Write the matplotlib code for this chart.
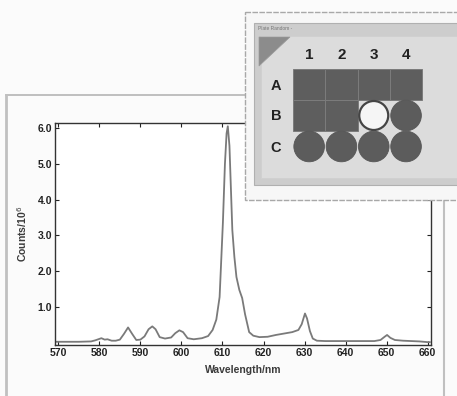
import matplotlib
matplotlib.use("Agg")
import matplotlib.pyplot as plt
from matplotlib.patches import Rectangle, Circle, Polygon

plt.rcParams['font.family'] = ['Liberation Sans', 'DejaVu Sans']

# ---- spectrum data ----
wavelength = [569, 572, 575, 578, 579, 580.5, 581.3, 582, 583, 584, 585, 586, 587, 588,
              589, 590, 591, 592, 592.9, 593.7, 594.7, 596, 597.5, 598.5, 599.5, 600.4,
              601.5, 603, 605, 606.5, 607.6, 608.5, 609.3, 610.1, 610.6, 611.0, 611.3,
              611.7, 612.4, 612.9, 613.4, 614.1, 614.8, 615.5, 616.5, 617.5, 619, 621,
              623, 625, 627, 628.5, 629.3, 630.1, 630.6, 631.3, 632, 633, 635, 638, 641,
              644, 647, 648.5, 649.5, 650.1, 650.9, 652, 654, 656, 658, 660, 660.5]
counts = [0.03, 0.03, 0.03, 0.04, 0.07, 0.13, 0.09, 0.10, 0.06, 0.06, 0.09, 0.25, 0.43,
          0.25, 0.08, 0.09, 0.18, 0.38, 0.46, 0.38, 0.16, 0.12, 0.15, 0.27, 0.35, 0.30,
          0.13, 0.10, 0.13, 0.19, 0.36, 0.65, 1.28, 3.35, 5.0, 5.85, 6.05, 5.5, 3.15,
          2.4, 1.84, 1.48, 1.25, 0.80, 0.30, 0.20, 0.16, 0.17, 0.22, 0.26, 0.30, 0.36,
          0.52, 0.82, 0.68, 0.33, 0.12, 0.06, 0.05, 0.05, 0.05, 0.05, 0.05, 0.08, 0.17,
          0.22, 0.14, 0.08, 0.06, 0.05, 0.04, 0.02, 0.02]

xticks = [570, 580, 590, 600, 610, 620, 630, 640, 650, 660]
yticks = [1.0, 2.0, 3.0, 4.0, 5.0, 6.0]

# ---- plate map data ----
plate_title = "Plate Random -"
col_labels = ["1", "2", "3", "4"]
row_labels = ["A", "B", "C"]
well_state = [["square", "square", "square", "square"],
              ["square", "square", "open", "filled"],
              ["filled", "filled", "filled", "filled"]]

W, H = 457, 396
fig = plt.figure(figsize=(W / 100, H / 100), dpi=100)
fig.patch.set_facecolor('#fbfbfb')

# background overlay (pixel coords) for frame lines
bg = fig.add_axes([0, 0, 1, 1], zorder=0)
bg.set_xlim(0, W); bg.set_ylim(H, 0); bg.axis('off')
bg.plot([6, 245], [95, 95], color='#b5b5b5', lw=1.2)
bg.plot([6, 6], [95, 396], color='#c0c0c0', lw=2.0)
bg.plot([444, 444], [200, 396], color='#c0c0c0', lw=1.5)

# main spectrum axes
l, r, t, b = 55, 431, 123, 345
ax = fig.add_axes([l / W, 1 - b / H, (r - l) / W, (b - t) / H], zorder=1)
ax.set_facecolor('white')
ax.plot(wavelength, counts, color='#7a7a7a', lw=1.3)
ax.set_xlim(569.2, 660.8)
ax.set_ylim(-0.06, 6.14)
ax.set_xticks(xticks)
ax.set_yticks(yticks)
ax.set_yticklabels([f"{v:.1f}" for v in yticks])
ax.tick_params(direction='in', length=3, width=0.8, top=True, right=True,
               labelsize=7.5, pad=2, colors='#222222')
for lab in ax.get_xticklabels() + ax.get_yticklabels():
    lab.set_fontweight('bold')
for s in ax.spines.values():
    s.set_color('#333333'); s.set_linewidth(1.0)
ax.set_xlabel("Wavelength/nm", fontsize=7.5, fontweight='bold', color='#3a3a3a', labelpad=5)
ax.set_ylabel("Counts/10$^6$", fontsize=7.5, fontweight='bold', color='#3a3a3a', labelpad=6)

# inset plate map (pixel coords)
ov = fig.add_axes([0, 0, 1, 1], zorder=2)
ov.set_xlim(0, W); ov.set_ylim(H, 0); ov.axis('off')
ov.patch.set_alpha(0)
ov.add_patch(Rectangle((245, 12), 230, 188, facecolor='#f7f7f7', edgecolor='#a8a8a8',
                       lw=1.0, ls=(0, (4, 1))))
ov.add_patch(Rectangle((254, 23), 220, 162, facecolor='#cdcdcd', edgecolor='#b0b0b0', lw=0.8))
ov.add_patch(Rectangle((261, 36), 210, 142, facecolor='#dcdcdc', edgecolor='#d0d0d0', lw=0.6))
ov.text(258, 29, plate_title, fontsize=3.5, color='#777777', va='center', ha='left')
ov.add_patch(Polygon([[259, 37], [290, 37], [259, 66]], closed=True,
                     facecolor='#8c8c8c', edgecolor='#9a9a9a', lw=0.5))

x0, y0, cw, ch = 293, 69, 32.3, 31
for j, c in enumerate(col_labels):
    ov.text(x0 + cw * (j + 0.5), 55, c, fontsize=11, fontweight='bold',
            ha='center', va='center', color='#222222')
for i, rlab in enumerate(row_labels):
    ov.text(276, y0 + ch * (i + 0.5) + 1, rlab, fontsize=10.5, fontweight='bold',
            ha='center', va='center', color='#222222')
    for j in range(len(col_labels)):
        st = well_state[i][j]
        cx, cy = x0 + cw * (j + 0.5), y0 + ch * (i + 0.5)
        if st == "square":
            ov.add_patch(Rectangle((x0 + cw * j, y0 + ch * i), cw, ch,
                                   facecolor='#5e5e5e', edgecolor='#7c7c7c', lw=0.7))
        elif st == "filled":
            ov.add_patch(Circle((cx, cy), 15.3, facecolor='#5c5c5c', edgecolor='#565656', lw=0.6))
        else:
            ov.add_patch(Circle((cx, cy), 14.5, facecolor='#f5f5f5', edgecolor='#444444', lw=1.6))

fig.savefig("out.png", dpi=100, facecolor=fig.get_facecolor())
